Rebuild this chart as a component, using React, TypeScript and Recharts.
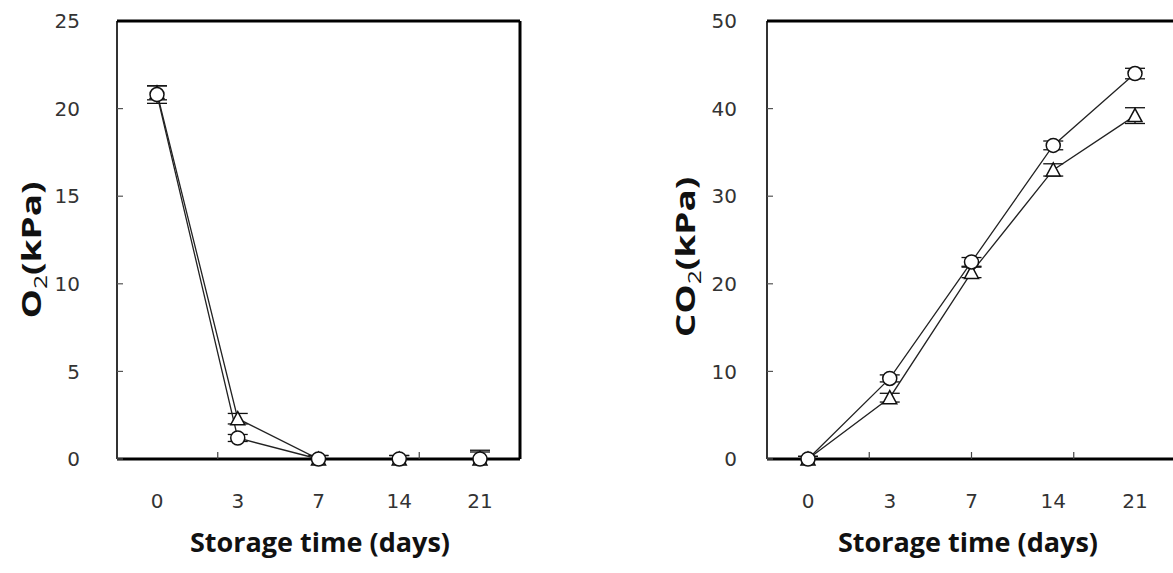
import { LineChart, Line, XAxis, YAxis, ErrorBar } from 'recharts'

// storage days (categories)
const days = ['0', '3', '7', '14', '21']

// O2 partial pressure (kPa)
const o2Circle = [20.8, 1.2, 0, 0, 0]
const o2Triangle = [20.9, 2.3, 0, 0, 0]
const o2CircleErr = [0.5, 0.2, 0.2, 0.2, 0.5]
const o2TriangleErr = [0.4, 0.3, 0.2, 0.2, 0.4]

// CO2 partial pressure (kPa)
const co2Circle = [0, 9.2, 22.5, 35.8, 44.0]
const co2Triangle = [0, 7.0, 21.3, 33.0, 39.2]
const co2CircleErr = [0.3, 0.4, 0.5, 0.5, 0.6]
const co2TriangleErr = [0.3, 0.5, 0.6, 0.7, 0.9]

const o2Ticks = [0, 5, 10, 15, 20, 25]
const co2Ticks = [0, 10, 20, 30, 40, 50]

// error bars never reach below zero, so the axis domain stays at 0
const errPair = (v: number, e: number) => [Math.min(v, e), e]

const buildRows = (c: number[], t: number[], ce: number[], te: number[]) =>
  days.map((day, i) => ({
    day,
    circle: c[i],
    triangle: t[i],
    circleErr: errPair(c[i], ce[i]),
    triangleErr: errPair(t[i], te[i]),
  }))

const o2Data = buildRows(o2Circle, o2Triangle, o2CircleErr, o2TriangleErr)
const co2Data = buildRows(co2Circle, co2Triangle, co2CircleErr, co2TriangleErr)

const tickFont = { fontSize: 20, fill: '#333', fontFamily: 'DejaVu Sans' }
const titleFont = { fontFamily: '"Open Sans", sans-serif', fontWeight: 700, fontSize: 27, color: '#111' }

const noTick = () => <g />

const circleDot = (props: any) => {
  const { cx, cy, index } = props
  if (cx == null || cy == null) return <g key={`c-${index}`} />
  return <circle key={`c-${index}`} cx={cx} cy={cy} r={7} fill="#fff" stroke="#111" strokeWidth={1.5} />
}

const triangleDot = (props: any) => {
  const { cx, cy, index } = props
  if (cx == null || cy == null) return <g key={`t-${index}`} />
  const pts = `${cx},${cy - 7} ${cx - 7},${cy + 6} ${cx + 7},${cy + 6}`
  return <polygon key={`t-${index}`} points={pts} fill="#fff" stroke="#111" strokeWidth={1.5} />
}

interface PanelProps {
  data: typeof o2Data
  ticks: number[]
  width: number
  pad: number
  labelGap: number
  showRight: boolean
}

function Panel({ data, ticks, width, pad, labelGap, showRight }: PanelProps) {
  const max = ticks[ticks.length - 1]
  return (
    <LineChart width={width} height={573} data={data} margin={{ top: 21, right: 40, bottom: 0, left: 0 }}>
      <XAxis
        xAxisId="cat"
        dataKey="day"
        height={114}
        padding={{ left: pad, right: pad }}
        tickLine={false}
        tickSize={0}
        tickMargin={35}
        axisLine={{ stroke: '#000', strokeWidth: 3 }}
        tick={tickFont}
      />
      <YAxis
        yAxisId="v"
        type="number"
        domain={[0, max]}
        ticks={ticks}
        width={117}
        tickSize={-6}
        tickMargin={labelGap}
        tickLine={{ stroke: '#555', strokeWidth: 1.2 }}
        axisLine={{ stroke: '#333', strokeWidth: 2 }}
        tick={tickFont}
      />
      {/* inward ticks between the day categories */}
      <XAxis
        xAxisId="minor"
        type="number"
        mirror
        domain={[0, 5]}
        ticks={[1, 2, 3, 4]}
        height={1}
        axisLine={false}
        tickSize={7}
        tickLine={{ stroke: '#444', strokeWidth: 1.2 }}
        tick={noTick}
      />
      {/* frame: top and right borders */}
      <XAxis
        xAxisId="top"
        orientation="top"
        mirror
        type="number"
        domain={[0, 1]}
        height={1}
        tick={false}
        tickLine={false}
        axisLine={{ stroke: '#000', strokeWidth: 3 }}
      />
      {showRight && (
        <YAxis
          yAxisId="right"
          orientation="right"
          mirror
          type="number"
          domain={[0, 1]}
          width={1}
          tick={false}
          tickLine={false}
          axisLine={{ stroke: '#000', strokeWidth: 3 }}
        />
      )}
      <Line
        xAxisId="cat"
        yAxisId="v"
        dataKey="triangle"
        stroke="#222"
        strokeWidth={1.3}
        dot={triangleDot}
        isAnimationActive={false}
      >
        <ErrorBar dataKey="triangleErr" width={10} stroke="#111" strokeWidth={1.3} direction="y" />
      </Line>
      <Line
        xAxisId="cat"
        yAxisId="v"
        dataKey="circle"
        stroke="#222"
        strokeWidth={1.3}
        dot={circleDot}
        isAnimationActive={false}
      >
        <ErrorBar dataKey="circleErr" width={10} stroke="#111" strokeWidth={1.3} direction="y" />
      </Line>
    </LineChart>
  )
}

const yTitleStyle = (cx: number, cy: number): React.CSSProperties => ({
  position: 'absolute',
  left: cx,
  top: cy,
  transform: 'translate(-50%, -50%) rotate(-90deg) scaleX(1.37)',
  whiteSpace: 'nowrap',
  ...titleFont,
})

const xTitleStyle = (cx: number): React.CSSProperties => ({
  position: 'absolute',
  left: cx,
  top: 541,
  transform: 'translate(-50%, -50%)',
  whiteSpace: 'nowrap',
  ...titleFont,
})

export default function App() {
  return (
    <div style={{ position: 'fixed', left: 0, top: 0, width: 1173, height: 573, overflow: 'hidden', background: '#fff' }}>
      <div style={{ position: 'absolute', left: 0, top: 0 }}>
        <Panel data={o2Data} ticks={o2Ticks} width={560} pad={40} labelGap={43} showRight />
      </div>
      <div style={{ position: 'absolute', left: 650, top: 0 }}>
        <Panel data={co2Data} ticks={co2Ticks} width={566} pad={41} labelGap={36} showRight={false} />
      </div>
      <div style={yTitleStyle(32, 250)}>
        O<sub style={{ fontSize: 18, fontWeight: 400 }}>2</sub>(kPa)
      </div>
      <div style={yTitleStyle(686, 257)}>
        CO<sub style={{ fontSize: 18, fontWeight: 400 }}>2</sub>(kPa)
      </div>
      <div style={xTitleStyle(320)}>Storage time (days)</div>
      <div style={xTitleStyle(968)}>Storage time (days)</div>
    </div>
  )
}
